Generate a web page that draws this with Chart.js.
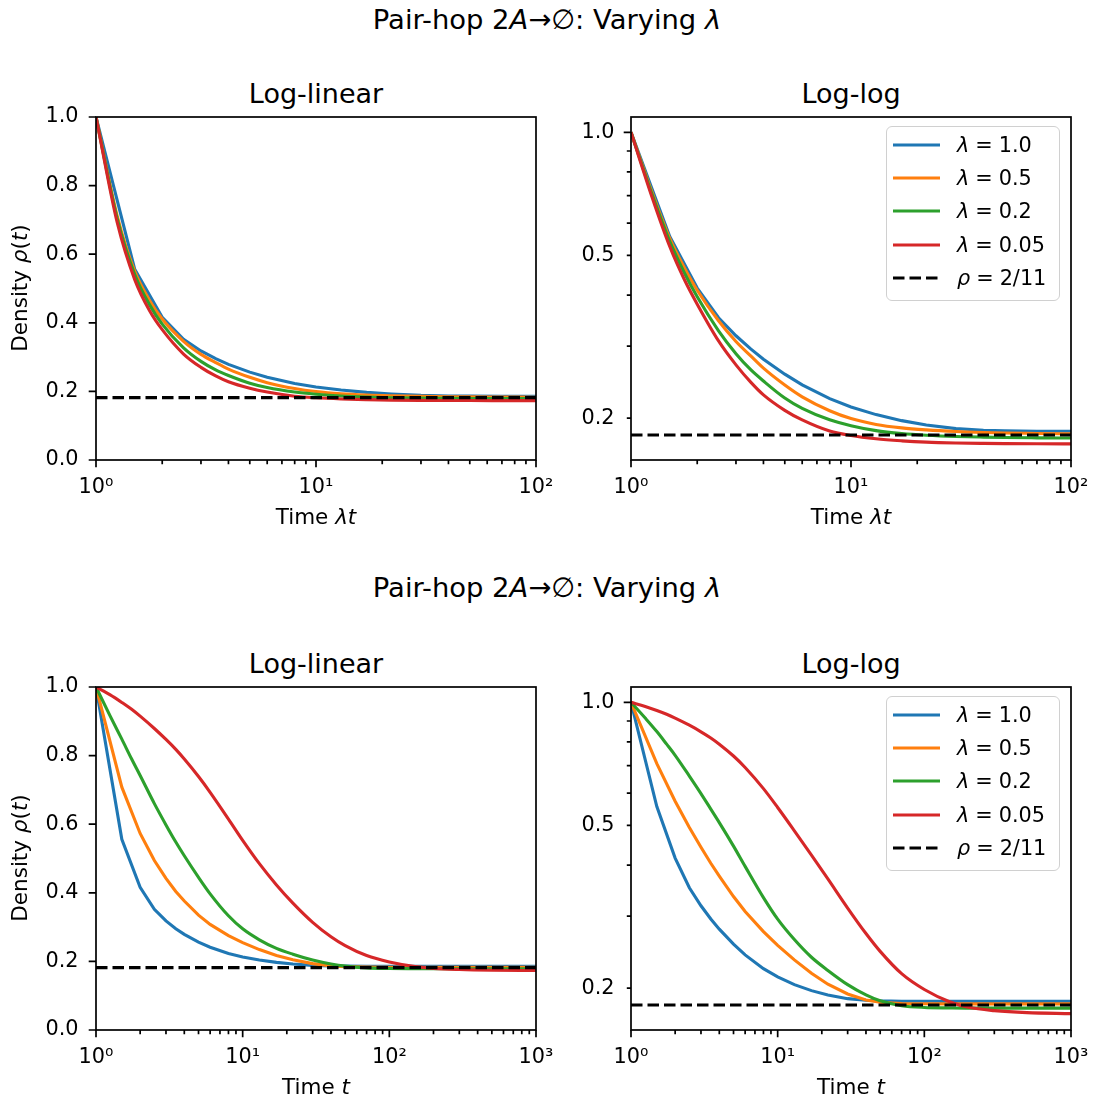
<!DOCTYPE html>
<html>
<head>
<meta charset="utf-8">
<script src="https://cdn.jsdelivr.net/npm/chart.js@4.4.0/dist/chart.umd.min.js"></script>
<style>
    html, body { margin: 0; padding: 0; background: #fff; }
    body {
        width: 1094px; height: 1102px; position: relative; overflow: hidden;
        font-family: "DejaVu Sans", sans-serif; color: #000;
    }
    canvas { position: absolute; }
    .sup { position: absolute; left: 0; width: 1094px; text-align: center; font-size: 27.4px; line-height: 32px; }
    .ttl { position: absolute; width: 440px; text-align: center; font-size: 27px; line-height: 32px; }
    .xl { position: absolute; width: 440px; text-align: center; font-size: 21.5px; line-height: 24px; }
    .yl {
        position: absolute; width: 220px; text-align: center; font-size: 21.5px; line-height: 24px;
        white-space: nowrap; transform: rotate(-90deg); transform-origin: center center;
    }
    .legend {
        position: absolute; width: 174px; height: 175px; box-sizing: border-box;
        border: 1.5px solid #d0d0d0; border-radius: 6px; background: rgba(255,255,255,0.8);
    }
    .lrow { position: absolute; left: 6px; height: 24px; white-space: nowrap; }
    .lrow svg { position: absolute; left: 0; top: 0; }
    .ltxt { position: absolute; left: 64px; top: 0; font-size: 20.8px; line-height: 24px; }
    .eq { margin: 0 6px; }
</style>
</head>
<body>

<div class="sup" style="top:4px">Pair-hop 2<i>A</i>→∅: Varying <i>λ</i></div>
<div class="ttl" style="left:96px; top:78px">Log-linear</div>
<div class="ttl" style="left:631px; top:78px">Log-log</div>
<canvas id="tl" width="572" height="420" style="left:0px; top:85px"></canvas>
<canvas id="tr" width="546" height="420" style="left:561px; top:85px"></canvas>
<div class="xl" style="left:96px; top:505px">Time <i>λt</i></div>
<div class="xl" style="left:631px; top:505px">Time <i>λt</i></div>
<div class="yl" style="left:-90px; top:276px">Density <i>ρ</i>(<i>t</i>)</div>

<div class="sup" style="top:572px">Pair-hop 2<i>A</i>→∅: Varying <i>λ</i></div>
<div class="ttl" style="left:96px; top:648px">Log-linear</div>
<div class="ttl" style="left:631px; top:648px">Log-log</div>
<canvas id="bl" width="572" height="420" style="left:0px; top:655px"></canvas>
<canvas id="br" width="546" height="420" style="left:561px; top:655px"></canvas>
<div class="xl" style="left:96px; top:1075px">Time <i>t</i></div>
<div class="xl" style="left:631px; top:1075px">Time <i>t</i></div>
<div class="yl" style="left:-90px; top:846px">Density <i>ρ</i>(<i>t</i>)</div>

<script>
const lambdaLabels = ["1.0", "0.5", "0.2", "0.05"];
const plateau = 2 / 11;
const plateauLabel = "ρ = 2/11";

// upper row: x = λt
const topX = [1, 1.25, 1.5, 1.75, 2, 2.5, 3, 3.5, 4, 5, 6, 8, 10, 13, 17, 22, 30, 40, 50, 70, 100];
const topRho10 = [1.0, null, 0.556, null, 0.416, 0.352, 0.318, 0.2953, 0.2788, 0.2562, 0.2412, 0.2232, 0.2130, 0.2040, 0.1972, 0.1925, 0.1885, 0.1868, 0.1862, 0.1858, 0.1857];
const topRho05 = [1.0, 0.71, 0.55, 0.466, 0.411, 0.346, 0.308, 0.284, 0.265, 0.241, 0.2255, 0.2085, 0.1995, 0.193, 0.1893, 0.1872, 0.1855, 0.1845, 0.184, 0.1835, 0.183];
const topRho02 = [1.0, 0.702, 0.541, 0.453, 0.396, 0.327, 0.2875, 0.2627, 0.2465, 0.224, 0.2113, 0.1981, 0.1917, 0.1864, 0.1834, 0.1817, 0.1804, 0.1797, 0.1793, 0.179, 0.1788];
const topRho005 = [1.0, 0.691, 0.526, 0.436, 0.380, 0.309, 0.270, 0.245, 0.228, 0.209, 0.198, 0.186, 0.1813, 0.178, 0.176, 0.1747, 0.1739, 0.1735, 0.1733, 0.1731, 0.173];

// lower row: x = t
const botX = [1, 1.25, 1.5, 1.75, 2, 2.5, 3, 3.5, 4, 5, 6, 8, 10, 13, 17, 22, 30, 40, 50, 70, 100, 150, 200, 300, 500, 1000];
const botRho10 = [1.0, null, 0.556, null, 0.416, 0.352, 0.318, 0.2953, 0.2788, 0.2562, 0.2412, 0.2232, 0.2130, 0.2040, 0.1972, 0.1925, 0.1885, 0.1868, 0.1862, 0.1858, 0.1857, 0.1856, 0.1856, 0.1856, 0.1856, 0.1856];
const botRho05 = [1.0, null, 0.708, null, 0.573, 0.494, 0.442, 0.404, 0.376, 0.335, 0.308, 0.275, 0.2545, 0.2345, 0.2175, 0.2045, 0.1935, 0.187, 0.1848, 0.1835, 0.1831, 0.183, 0.183, 0.183, 0.183, 0.183];
const botRho02 = [1.0, 0.915, 0.848, 0.79, 0.742, 0.66, 0.598, 0.548, 0.508, 0.445, 0.397, 0.333, 0.295, 0.263, 0.238, 0.221, 0.204, 0.1925, 0.1862, 0.1812, 0.1794, 0.1789, 0.1787, 0.1787, 0.1787, 0.1787];
const botRho005 = [1.0, 0.977, 0.955, 0.935, 0.915, 0.879, 0.847, 0.818, 0.79, 0.739, 0.693, 0.615, 0.553, 0.485, 0.423, 0.370, 0.314, 0.272, 0.246, 0.217, 0.1985, 0.185, 0.1795, 0.1762, 0.1742, 0.1733];

// ticks
const xMajorTop = [1, 10, 100];
const xLabelsTop = ["10⁰", "10¹", "10²"];
const xMajorBot = [1, 10, 100, 1000];
const xLabelsBot = ["10⁰", "10¹", "10²", "10³"];
const yLinTicks = [0, 0.2, 0.4, 0.6, 0.8, 1.0];
const yLogLabelled = [0.2, 0.5, 1.0];
const yLogMin = 0.158;
const yLogMax = 1.09;

const lineColors = ["#1f77b4", "#ff7f0e", "#2ca02c", "#d62728"];
const LW = 3.1;

function logMinor(lo, hi) {
    const out = [];
    for (let d = lo; d < hi * 0.999; d *= 10) {
        for (let k = 2; k <= 9; k++) out.push(+(d * k).toPrecision(3));
    }
    return out;
}

function series(xs, ys) {
    return xs.map((x, i) => ({ x: x, y: ys[i] }));
}

// spines + matplotlib-like major / minor tick marks
const axesFrame = {
    id: "axesFrame",
    afterDraw(chart) {
        const ctx = chart.ctx;
        const a = chart.chartArea;
        ctx.save();
        ctx.strokeStyle = "#000";
        ctx.lineWidth = 1.7;
        ctx.beginPath();
        ["x", "y"].forEach(id => {
            const s = chart.scales[id];
            s.ticks.forEach(t => {
                const len = t.major ? 7.3 : 4.2;
                const p = s.getPixelForValue(t.value);
                if (id === "x") {
                    ctx.moveTo(p, a.bottom);
                    ctx.lineTo(p, a.bottom + len);
                } else {
                    ctx.moveTo(a.left, p);
                    ctx.lineTo(a.left - len, p);
                }
            });
        });
        ctx.stroke();
        ctx.strokeRect(a.left, a.top, a.right - a.left, a.bottom - a.top);
        ctx.restore();
    }
};

function makePanel(id, opt) {

    const datasets = opt.curves.map((ys, i) => ({
        label: "λ = " + lambdaLabels[i],
        data: series(opt.xs, ys),
        borderColor: lineColors[i],
        borderWidth: LW,
        pointRadius: 0,
        fill: false,
        spanGaps: true,
        cubicInterpolationMode: opt.smooth[i] ? "monotone" : "default",
        tension: 0,
        order: 4 - i + 1
    }));

    datasets.push({
        label: plateauLabel,
        data: [{ x: 1, y: plateau }, { x: opt.xMax, y: plateau }],
        borderColor: "#000",
        borderWidth: LW,
        borderDash: [11.5, 5],
        pointRadius: 0,
        fill: false,
        order: 0
    });

    const tickFont = { family: "DejaVu Sans", size: 20.8 };

    const yScale = opt.logY ? {
        type: "logarithmic",
        min: yLogMin,
        max: yLogMax,
        afterBuildTicks(s) {
            s.ticks = logMinor(0.1, 1).filter(v => v >= yLogMin)
                .map(v => ({ value: v, major: false }))
                .concat([{ value: 1, major: true }]);
        },
        ticks: {
            autoSkip: false,
            padding: 16.5,
            color: "#000",
            font: tickFont,
            callback: v => yLogLabelled.some(l => Math.abs(l - v) < 1e-9) ? v.toFixed(1) : ""
        }
    } : {
        type: "linear",
        min: 0,
        max: 1,
        afterBuildTicks(s) {
            s.ticks = yLinTicks.map(v => ({ value: v, major: true }));
        },
        ticks: {
            autoSkip: false,
            padding: 17.5,
            color: "#000",
            font: tickFont,
            callback: v => v.toFixed(1)
        }
    };

    Object.assign(yScale, {
        grid: { display: false, drawTicks: false, tickLength: 0 },
        border: { display: false },
        afterFit(s) { s.width = opt.yWidth; }
    });

    // label overhang + tick padding is reserved by Chart.js, hence the wide top / right padding
    const chart = new Chart(document.getElementById(id), {
        type: "line",
        data: { datasets: datasets },
        options: {
            responsive: false,
            animation: false,
            events: [],
            layout: { padding: { left: 0, right: 36, top: 32, bottom: 0 } },
            plugins: {
                legend: { display: false },
                tooltip: { enabled: false }
            },
            scales: {
                x: {
                    type: "logarithmic",
                    min: 1,
                    max: opt.xMax,
                    afterBuildTicks(s) {
                        const t = opt.xMajor.map(v => ({ value: v, major: true }))
                            .concat(logMinor(1, opt.xMax).map(v => ({ value: v, major: false })));
                        t.sort((a, b) => a.value - b.value);
                        s.ticks = t;
                    },
                    ticks: {
                        autoSkip: false,
                        maxRotation: 0,
                        minRotation: 0,
                        padding: 15,
                        color: "#000",
                        font: tickFont,
                        callback: v => {
                            const i = opt.xMajor.indexOf(v);
                            return i >= 0 ? opt.xLabels[i] : "";
                        }
                    },
                    grid: { display: false, drawTicks: false, tickLength: 0 },
                    border: { display: false },
                    afterFit(s) { s.height = 45; }
                },
                y: yScale
            }
        },
        plugins: [axesFrame]
    });

    if (opt.legend) buildLegend(chart, opt.legend[0], opt.legend[1]);
    return chart;
}

function buildLegend(chart, left, top) {
    const box = document.createElement("div");
    box.className = "legend";
    box.style.left = left + "px";
    box.style.top = top + "px";
    chart.data.datasets.forEach((d, i) => {
        const row = document.createElement("div");
        row.className = "lrow";
        row.style.top = (6 + 33.2 * i) + "px";
        const dash = d.borderDash ? ` stroke-dasharray="${d.borderDash.join(" ")}"` : "";
        const parts = d.label.split(" = ");
        row.innerHTML =
            `<svg width="48" height="24"><line x1="0" y1="12" x2="47" y2="12" stroke="${d.borderColor}" stroke-width="${LW}"${dash}/></svg>` +
            `<span class="ltxt"><i>${parts[0]}</i><span class="eq">=</span>${parts[1]}</span>`;
        box.appendChild(row);
    });
    document.body.appendChild(box);
}

const topCurves = [topRho10, topRho05, topRho02, topRho005];
const botCurves = [botRho10, botRho05, botRho02, botRho005];

makePanel("tl", { xs: topX, curves: topCurves, smooth: [false, true, true, true], xMax: 100,
    xMajor: xMajorTop, xLabels: xLabelsTop, logY: false, yWidth: 96 });
makePanel("tr", { xs: topX, curves: topCurves, smooth: [false, true, true, true], xMax: 100,
    xMajor: xMajorTop, xLabels: xLabelsTop, logY: true, yWidth: 70, legend: [886, 126] });
makePanel("bl", { xs: botX, curves: botCurves, smooth: [false, false, true, true], xMax: 1000,
    xMajor: xMajorBot, xLabels: xLabelsBot, logY: false, yWidth: 96 });
makePanel("br", { xs: botX, curves: botCurves, smooth: [false, false, true, true], xMax: 1000,
    xMajor: xMajorBot, xLabels: xLabelsBot, logY: true, yWidth: 70, legend: [886, 696] });
</script>
</body>
</html>
